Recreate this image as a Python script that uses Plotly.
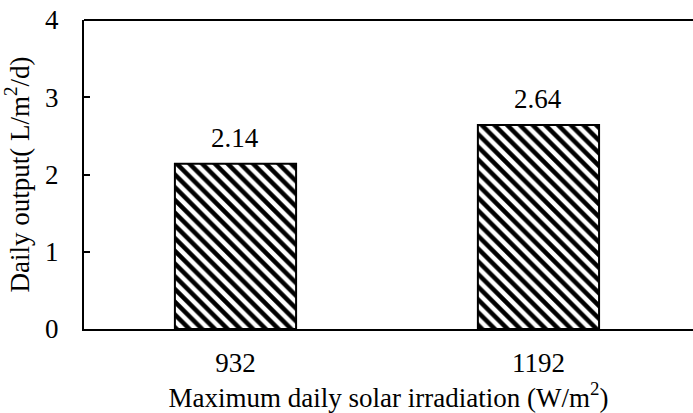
import plotly.graph_objects as go

# Daily water output for two levels of peak solar irradiation
irradiation = ["932", "1192"]
daily_output = [2.14, 2.64]
y_ticks = [0, 1, 2, 3, 4]

serif = "Liberation Serif"
fs = 27

fig = go.Figure()
fig.add_trace(go.Bar(
    x=irradiation,
    y=daily_output,
    width=0.4,
    marker=dict(
        color="white",
        line=dict(color="black", width=2),
        pattern=dict(shape="\\", size=9, solidity=0.5,
                     fgcolor="black", bgcolor="white", fgopacity=1),
    ),
    showlegend=False,
))

# Value labels above each bar (category axis positions given by index)
for i, val in enumerate(daily_output):
    fig.add_annotation(x=i, y=val, xref="x", yref="y",
                       text="%.2f" % val, showarrow=False,
                       yanchor="bottom", yshift=9,
                       font=dict(family=serif, size=fs, color="black"))

# Top edge of the plotting area
fig.add_shape(type="line", xref="paper", yref="paper", x0=0, x1=1, y0=1, y1=1,
              line=dict(color="black", width=2))

fig.update_layout(
    width=693, height=413,
    margin=dict(l=84, r=0, t=20, b=84),
    plot_bgcolor="white", paper_bgcolor="white",
    font=dict(family=serif, size=fs, color="black"),
    xaxis=dict(
        type="category",
        range=[-0.5, 1.51],
        showline=True, linecolor="black", linewidth=2,
        ticks="", ticklabelstandoff=9,
        tickfont=dict(family=serif, size=fs),
        title=dict(text="Maximum daily solar irradiation (W/m<sup>2</sup>)",
                   font=dict(family=serif, size=fs), standoff=0),
        showgrid=False, zeroline=False,
    ),
    yaxis=dict(
        range=[0, 4],
        tickvals=y_ticks,
        showline=True, linecolor="black", linewidth=2,
        ticks="inside", ticklen=6, tickwidth=2, tickcolor="black",
        ticklabelstandoff=18,
        tickfont=dict(family=serif, size=fs),
        title=dict(text="Daily output( L/m<sup>2</sup>/d)",
                   font=dict(family=serif, size=fs), standoff=8),
        showgrid=False, zeroline=False,
    ),
)

fig.write_html("out.html")
